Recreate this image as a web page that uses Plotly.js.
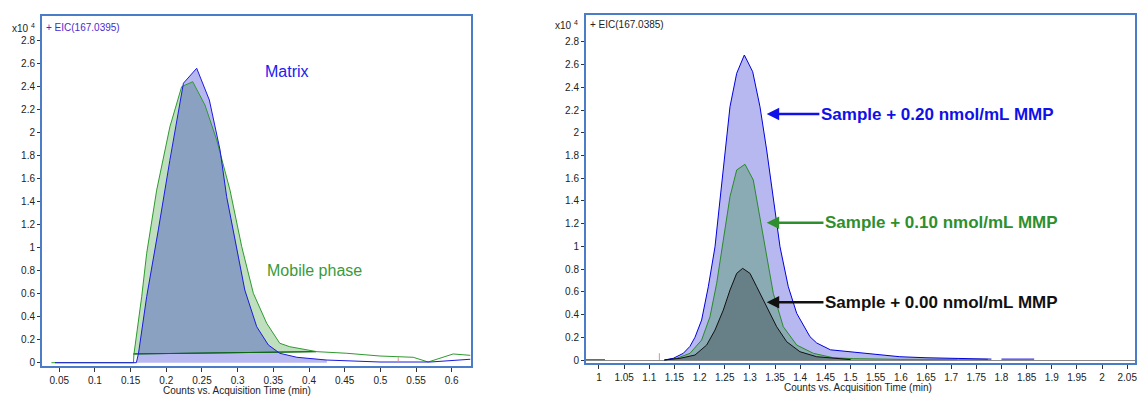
<!DOCTYPE html>
<html><head><meta charset="utf-8">
<script src="https://cdn.plot.ly/plotly-3.0.1.min.js"></script>
<style>html,body{margin:0;padding:0;background:#fff;}#chart{width:1137px;height:397px;}</style>
</head><body><div id="chart"></div>
<script>
// ---------- Left panel: EIC(167.0395), intensity in x10^4 counts ----------
const matrixX = [0.044, 0.158, 0.161, 0.1725, 0.1888, 0.205, 0.224, 0.2426, 0.2603, 0.2753, 0.2846, 0.2987, 0.31, 0.3267, 0.343, 0.359, 0.383, 0.425, 0.4995, 0.57, 0.602, 0.626];
const matrixY = [0, 0, 0.08, 0.574, 1.154, 1.76, 2.43, 2.56, 2.284, 1.85, 1.443, 1.009, 0.632, 0.313, 0.154, 0.082, 0.047, 0.023, 0.006, 0.006, 0.017, 0.03];
const mobileX = [0.039, 0.154, 0.1547, 0.1655, 0.1725, 0.1865, 0.205, 0.2215, 0.237, 0.2542, 0.2706, 0.2893, 0.3057, 0.322, 0.3407, 0.359, 0.373, 0.397, 0.411, 0.453, 0.4995, 0.546, 0.567, 0.602, 0.626];
const mobileY = [0, 0, 0.076, 0.574, 0.951, 1.50, 2.05, 2.40, 2.443, 2.24, 1.937, 1.50, 1.009, 0.603, 0.343, 0.169, 0.139, 0.11, 0.096, 0.082, 0.058, 0.047, 0.006, 0.076, 0.064];
const matrixPeak = [0.158, 0.43];          // integration limits (min)
const mobilePeak = [0.154, 0.411];
const mobileBaseX = [0.154, 0.41];
const mobileBaseY = [0.076, 0.096];
const leftMarkX = [0.525, 0.525];
const leftMarkY = [0.006, 0.047];
const leftXTicks = [0.05, 0.1, 0.15, 0.2, 0.25, 0.3, 0.35, 0.4, 0.45, 0.5, 0.55, 0.6];

// ---------- Right panel: EIC(167.0385) ----------
const s20X = [1.13, 1.1477, 1.1676, 1.1808, 1.1908, 1.204, 1.2173, 1.2306, 1.2405, 1.2504, 1.2604, 1.2737, 1.2889, 1.3055, 1.32, 1.3333, 1.3465, 1.3598, 1.3763, 1.393, 1.4194, 1.4327, 1.46, 1.4989, 1.5387, 1.598, 1.65, 1.711, 1.773, 1.78, null, 1.80, 1.865];
const s20Y = [0, 0.015, 0.059, 0.12, 0.2, 0.352, 0.645, 0.997, 1.408, 1.849, 2.23, 2.524, 2.685, 2.538, 2.23, 1.849, 1.408, 0.997, 0.645, 0.411, 0.205, 0.15, 0.09, 0.073, 0.059, 0.029, 0.02, 0.015, 0.01, 0.008, null, 0.008, 0.008];
const s10X = [0.972, 1.012, null, 1.13, 1.1544, 1.1809, 1.204, 1.2206, 1.2339, 1.2471, 1.2604, 1.2737, 1.2902, 1.3067, 1.32, 1.3333, 1.3465, 1.3664, 1.393, 1.4261, 1.4658, 1.5055, 1.6, 1.714, 1.773];
const s10Y = [0.004, 0.004, null, 0, 0.015, 0.059, 0.176, 0.381, 0.675, 1.056, 1.438, 1.673, 1.723, 1.585, 1.261, 0.909, 0.587, 0.293, 0.132, 0.059, 0.02, 0.012, 0.006, 0.006, 0.006];
const s00X = [1.13, 1.161, 1.1908, 1.2141, 1.2306, 1.2471, 1.2604, 1.2737, 1.2856, 1.3001, 1.3135, 1.3333, 1.3532, 1.3731, 1.3995, 1.4327, 1.4923, 1.5];
const s00Y = [0, 0.015, 0.044, 0.132, 0.264, 0.44, 0.616, 0.763, 0.807, 0.763, 0.645, 0.469, 0.293, 0.161, 0.073, 0.029, 0.006, 0.004];
const s20Peak = [1.13, 1.711];
const s10Peak = [1.13, 1.6];
const s00Peak = [1.13, 1.5];
const rightMarkX = [1.12, 1.12];
const rightMarkY = [0, 0.06];
const rightXTicks = [1, 1.05, 1.1, 1.15, 1.2, 1.25, 1.3, 1.35, 1.4, 1.45, 1.5, 1.55, 1.6, 1.65, 1.7, 1.75, 1.8, 1.85, 1.9, 1.95, 2, 2.05];
const yTicks = [0, 0.2, 0.4, 0.6, 0.8, 1, 1.2, 1.4, 1.6, 1.8, 2, 2.2, 2.4, 2.6, 2.8];

const labels = ['Sample + 0.20 nmol/mL MMP', 'Sample + 0.10 nmol/mL MMP', 'Sample + 0.00 nmol/mL MMP'];
const arrowTipX = [1.3333, 1.3333, 1.3333];
const arrowTipY = [2.165, 1.209, 0.508];

// ---------- helpers ----------
const W = 1137, H = 397;
const px = v => v / W, py = v => 1 - v / H;
function seg(xs, ys, lim) {
  const ox = [], oy = [];
  xs.forEach((x, i) => { if (x !== null && ys[i] !== null && x >= lim[0] && x <= lim[1]) { ox.push(x); oy.push(ys[i]); } });
  return { x: ox, y: oy };
}
const FONT = '"Liberation Sans", Arial, sans-serif';
const blueFill = 'rgba(0,0,200,0.28)', greenFill = 'rgba(0,128,0,0.25)', blackFill = 'rgba(0,0,0,0.25)';

const mSeg = seg(matrixX, matrixY, matrixPeak);
const gSeg = seg(mobileX, mobileY, mobilePeak);
const r20 = seg(s20X, s20Y, s20Peak), r10 = seg(s10X, s10Y, s10Peak), r00 = seg(s00X, s00Y, s00Peak);

const traces = [
  // left: mobile-phase area first, matrix area over it
  { x: mobileBaseX, y: mobileBaseY, xaxis: 'x', yaxis: 'y', mode: 'lines', line: { color: '#0b6b0b', width: 1 } },
  { x: gSeg.x, y: gSeg.y, xaxis: 'x', yaxis: 'y', mode: 'lines', fill: 'tonexty', fillcolor: greenFill, line: { width: 0 }, hoverinfo: 'skip' },
  { x: mSeg.x, y: mSeg.y, xaxis: 'x', yaxis: 'y', mode: 'lines', fill: 'tozeroy', fillcolor: blueFill, line: { width: 0 }, hoverinfo: 'skip' },
  { x: mobileBaseX, y: mobileBaseY, xaxis: 'x', yaxis: 'y', mode: 'lines', line: { color: '#0b6b0b', width: 1 } },
  { x: mobileX, y: mobileY, xaxis: 'x', yaxis: 'y', mode: 'lines', name: 'Mobile phase', line: { color: '#2e9a2e', width: 1 } },
  { x: matrixX, y: matrixY, xaxis: 'x', yaxis: 'y', mode: 'lines', name: 'Matrix', line: { color: '#1a1ae0', width: 1 } },
  { x: leftMarkX, y: leftMarkY, xaxis: 'x', yaxis: 'y', mode: 'lines', line: { color: '#d89090', width: 1 } },
  // right
  { x: r20.x, y: r20.y, xaxis: 'x2', yaxis: 'y2', mode: 'lines', fill: 'tozeroy', fillcolor: blueFill, line: { width: 0 }, hoverinfo: 'skip' },
  { x: r10.x, y: r10.y, xaxis: 'x2', yaxis: 'y2', mode: 'lines', fill: 'tozeroy', fillcolor: greenFill, line: { width: 0 }, hoverinfo: 'skip' },
  { x: r00.x, y: r00.y, xaxis: 'x2', yaxis: 'y2', mode: 'lines', fill: 'tozeroy', fillcolor: blackFill, line: { width: 0 }, hoverinfo: 'skip' },
  { x: rightMarkX, y: rightMarkY, xaxis: 'x2', yaxis: 'y2', mode: 'lines', line: { color: '#d89090', width: 1 } },
  { x: s10X, y: s10Y, xaxis: 'x2', yaxis: 'y2', mode: 'lines', name: labels[1], line: { color: '#2a8a2a', width: 1 }, connectgaps: false },
  { x: s20X, y: s20Y, xaxis: 'x2', yaxis: 'y2', mode: 'lines', name: labels[0], line: { color: '#0000e0', width: 1 }, connectgaps: false },
  { x: s00X, y: s00Y, xaxis: 'x2', yaxis: 'y2', mode: 'lines', name: labels[2], line: { color: '#111111', width: 1 } }
];

const axCommon = {
  showgrid: false, zeroline: false, showline: true, linecolor: '#333', linewidth: 1,
  ticks: 'outside', tickcolor: '#333', tickfont: { family: FONT, size: 10, color: '#222' },
  tickmode: 'array', ticklabeloverflow: 'allow'
};

const annColors = ['#1010e8', '#2e8f2e', '#111111'];
const annotations = [
  { xref: 'paper', yref: 'paper', x: px(10), y: py(28), xanchor: 'left', yanchor: 'middle', showarrow: false, text: 'x10 <sup>4</sup>', font: { family: FONT, size: 10, color: '#222' } },
  { xref: 'paper', yref: 'paper', x: px(44), y: py(27), xanchor: 'left', yanchor: 'middle', showarrow: false, text: '+ EIC(167.0395)', font: { family: FONT, size: 10, color: '#4a2ad0' } },
  { xref: 'paper', yref: 'paper', x: px(553), y: py(25), xanchor: 'left', yanchor: 'middle', showarrow: false, text: 'x10 <sup>4</sup>', font: { family: FONT, size: 10, color: '#222' } },
  { xref: 'paper', yref: 'paper', x: px(588), y: py(25), xanchor: 'left', yanchor: 'middle', showarrow: false, text: '+ EIC(167.0385)', font: { family: FONT, size: 10, color: '#222' } },
  { xref: 'paper', yref: 'paper', x: px(287), y: py(71), xanchor: 'center', yanchor: 'middle', showarrow: false, text: 'Matrix', font: { family: FONT, size: 16, color: '#2020f0' } },
  { xref: 'paper', yref: 'paper', x: px(265), y: py(270), xanchor: 'left', yanchor: 'middle', showarrow: false, text: 'Mobile phase', font: { family: FONT, size: 16, color: '#3a9a3a' } },
  { xref: 'paper', yref: 'paper', x: px(237), y: py(390), xanchor: 'center', yanchor: 'middle', showarrow: false, text: 'Counts vs. Acquisition Time (min)', font: { family: FONT, size: 10, color: '#222' } },
  { xref: 'paper', yref: 'paper', x: px(858), y: py(387), xanchor: 'center', yanchor: 'middle', showarrow: false, text: 'Counts vs. Acquisition Time (min)', font: { family: FONT, size: 10, color: '#222' } }
];
const axOff = [170.7, 174.8, 174.8];
labels.forEach((t, i) => annotations.push({
  xref: 'x2', yref: 'y2', x: arrowTipX[i], y: arrowTipY[i], ax: axOff[i], ay: 0,
  text: '<b>' + t + '</b>', showarrow: true, arrowhead: 2, arrowsize: 1, arrowwidth: 2.5,
  arrowcolor: annColors[i], font: { family: FONT, size: 17, color: annColors[i] }
}));

const frame = (xr, yr) => ({ type: 'rect', xref: xr + ' domain', yref: yr + ' domain', x0: 0, x1: 1, y0: 0, y1: 1, line: { color: '#4a7cc8', width: 2 }, layer: 'above' });

const layout = {
  width: W, height: H, margin: { l: 0, r: 0, t: 0, b: 0 }, showlegend: false,
  paper_bgcolor: '#fff', plot_bgcolor: '#fff',
  xaxis: Object.assign({}, axCommon, { domain: [px(41), px(472)], range: [0.0244, 0.6284], tickvals: leftXTicks, ticklen: 4, anchor: 'y' }),
  yaxis: Object.assign({}, axCommon, { domain: [py(367), py(15)], range: [-0.0374, 3.023], tickvals: yTicks, ticklen: 3, anchor: 'x' }),
  xaxis2: Object.assign({}, axCommon, { domain: [px(585), px(1136)], range: [0.9722, 2.0674], tickvals: rightXTicks, ticklen: 4, anchor: 'y2' }),
  yaxis2: Object.assign({}, axCommon, { domain: [py(364), py(14)], range: [-0.035, 3.046], tickvals: yTicks, ticklen: 3, anchor: 'x2', zeroline: true, zerolinecolor: '#8a8a8a', zerolinewidth: 1 }),
  shapes: [frame('x', 'y'), frame('x2', 'y2')],
  annotations: annotations
};

Plotly.newPlot('chart', traces, layout, { staticPlot: true, displayModeBar: false });
</script>
</body></html>
